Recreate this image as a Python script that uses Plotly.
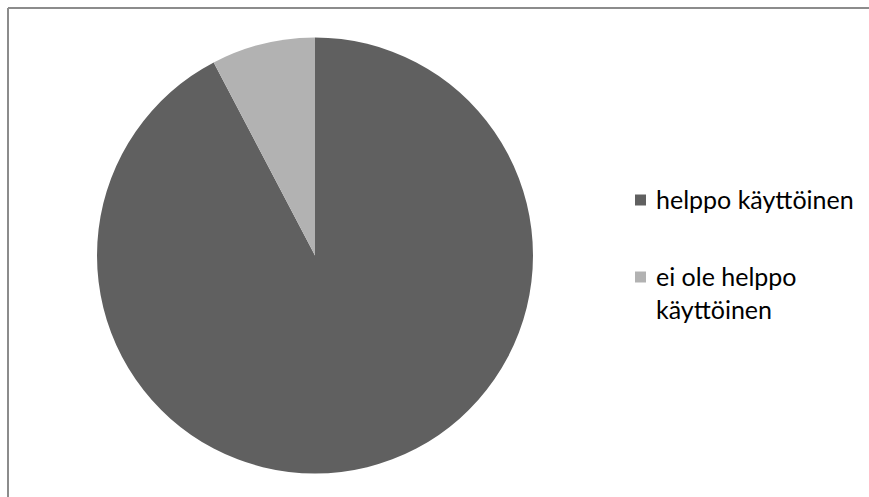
import plotly.graph_objects as go

# Survey answers: is the service easy to use?
labels = ["helppo käyttöinen", "ei ole helppo käyttöinen"]
legend_text = ["helppo käyttöinen", "ei ole helppo<br>käyttöinen"]
values = [12, 1]
colors = ["#606060", "#b2b2b2"]

W, H = 869, 497

def px_x(x):
    return x / W

def px_y(y):
    return 1 - y / H

fig = go.Figure()
fig.add_trace(go.Pie(
    labels=labels,
    values=values,
    sort=False,
    direction="clockwise",
    rotation=0,
    textinfo="none",
    hoverinfo="label+percent",
    marker=dict(colors=colors, line=dict(width=0)),
    domain=dict(x=[px_x(97), px_x(533)], y=[px_y(474), px_y(37)]),
    showlegend=False,
))

shapes = [
    # chart area frame (top and left edges)
    dict(type="line", xref="paper", yref="paper", x0=px_x(8), x1=1.01, y0=px_y(8), y1=px_y(8),
         line=dict(color="#8c8c8c", width=2)),
    dict(type="line", xref="paper", yref="paper", x0=px_x(8), x1=px_x(8), y0=px_y(8), y1=-0.01,
         line=dict(color="#8c8c8c", width=2)),
]
annotations = []
legend_y = [200, 277]
for text, color, yc in zip(legend_text, colors, legend_y):
    shapes.append(dict(type="rect", xref="paper", yref="paper",
                       x0=px_x(635), x1=px_x(646), y0=px_y(yc + 5.5), y1=px_y(yc - 5.5),
                       fillcolor=color, line=dict(width=0)))
    annotations.append(dict(xref="paper", yref="paper", x=px_x(654), y=px_y(yc - 18),
                            xanchor="left", yanchor="top", align="left", showarrow=False,
                            text=text, font=dict(family="Lato", size=25, color="#000000")))

fig.update_layout(
    width=W, height=H,
    margin=dict(l=0, r=0, t=0, b=0),
    paper_bgcolor="#ffffff",
    plot_bgcolor="#ffffff",
    shapes=shapes,
    annotations=annotations,
)

fig.write_html("out.html")
